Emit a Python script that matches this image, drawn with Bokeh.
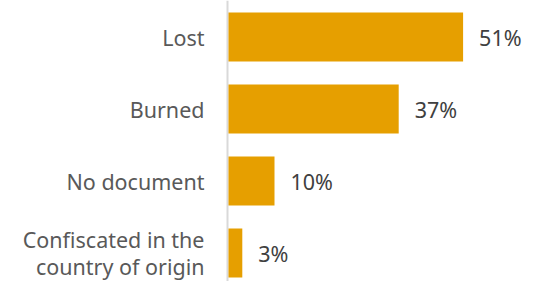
from bokeh.plotting import figure
from bokeh.models import Range1d, Span, ColumnDataSource
from bokeh.core.properties import value
from bokeh.embed import file_html
from bokeh.resources import INLINE

categories = ["Lost", "Burned", "No document", "Confiscated in the\ncountry of origin"]
values = [51, 37, 10, 3]
value_labels = ["51%", "37%", "10%", "3%"]

BAR = "#E69F00"
FONT = "Noto Sans"

W, H = 546, 281
px_per_unit = 4.6
left_px = 228
x_start = -left_px / px_per_unit
x_end = (W - left_px) / px_per_unit

pitch = 72.0
bar_h = 49.0 / pitch
y_end = 3 + bar_h / 2 + 12 / pitch
y_start = y_end - H / pitch

ypos = [3 - i for i in range(len(categories))]

src = ColumnDataSource(dict(y=ypos, v=values, cat=categories, lab=value_labels,
                            zero=[0] * len(values)))

p = figure(width=W, height=H, output_backend="svg", toolbar_location=None,
           x_range=Range1d(x_start, x_end), y_range=Range1d(y_start, y_end),
           min_border=0, outline_line_color=None)
p.axis.visible = False
p.grid.visible = False
p.background_fill_color = "white"

p.add_layout(Span(location=-1 / px_per_unit, dimension="height", line_color="#d9d9d9",
                  line_width=2, level="underlay"))

p.hbar(y="y", left="zero", right="v", height=bar_h, source=src,
       fill_color=BAR, line_color=None)

p.text(x="zero", y="y", text="cat", source=src, x_offset=-24,
       text_align="right", text_baseline="middle", text_font=value(FONT),
       text_font_size="21.5px", text_color="#595959", text_line_height=0.9)

p.text(x="v", y="y", text="lab", source=src, x_offset=16,
       text_align="left", text_baseline="middle", text_font=value(FONT),
       text_font_size="21.5px", text_color="#404040")

open("out.html", "w").write(file_html(p, INLINE))
